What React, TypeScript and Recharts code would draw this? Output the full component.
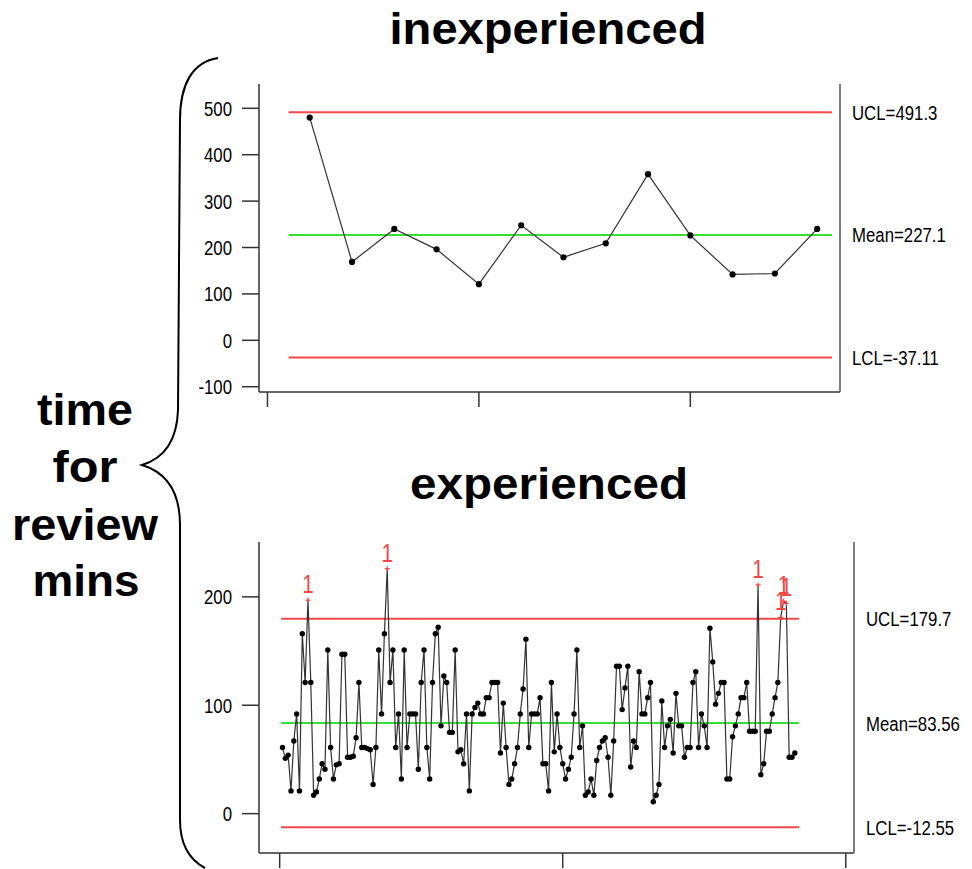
import { LineChart, Line, XAxis, YAxis, ReferenceLine } from "recharts";

// inexperienced reviewers, minutes per review (13 reviews)
const INEXP_MINUTES = [480, 169, 240, 196, 121, 248, 179, 209, 358, 226, 142, 144, 240];
const INEXP_LIMITS = { ucl: 491.3, mean: 227.1, lcl: -37.11 };
const INEXP_Y_TICKS = [-100, 0, 100, 200, 300, 400, 500];
const INEXP_X_TICKS = [0, 5, 10];
const INEXP_LIMIT_SPAN = [0.5, 13.35];

// experienced reviewers, minutes per review
const EXP_MINUTES = [
  61, 51, 54, 21, 67, 92, 21, 166, 121, 197, 121, 17, 20, 32, 46, 41, 151, 61, 32, 45,
  46, 147, 147, 52, 52, 53, 70, 121, 61, 61, 60, 59, 27, 61, 151, 92, 166, 226, 121,
  151, 61, 92, 32, 151, 61, 92, 92, 92, 41, 121, 151, 61, 32, 121, 166, 172, 81, 127,
  121, 75, 75, 151, 57, 59, 46, 92, 21, 92, 98, 102, 92, 92, 107, 107, 121, 121, 121,
  56, 102, 61, 27,
  32, 46, 61, 92, 115, 161, 61, 92, 92, 92, 107, 46, 46, 21, 121, 57, 92, 61, 46, 32,
  41, 52, 92, 151, 61, 81, 17, 20, 32, 17, 49, 61, 67, 70, 52, 17, 67, 136, 136, 96,
  116, 136, 43,
  67, 61, 131, 92, 92, 107, 121, 11, 17, 27, 104, 61, 81, 87, 56, 111, 81, 81, 52, 61,
  61, 121, 131, 61, 92, 81, 61, 171, 140, 101, 111, 121, 121, 32, 32, 71, 81, 92, 107,
  107, 121,
  76, 76, 76, 211, 36, 46, 76, 76, 92, 107, 121, 181, 196, 194, 52, 52, 56,
];
const EXP_LIMITS = { ucl: 179.7, mean: 83.56, lcl: -12.55 };
const EXP_Y_TICKS = [0, 100, 200];
const EXP_X_TICKS = [0, 100, 200];
const EXP_LIMIT_SPAN = [0.5, 183.5];

const SANS = '"Liberation Sans", Arial, Helvetica, sans-serif';
const NARROW_SCALE = 0.8;
const RED = "#f24848";
const GREEN = "#35e035";
const FRAME = "#333";

const toRows = (values: number[]) => values.map((v, i) => ({ sample: i + 1, minutes: v }));

// Arial-narrow look: regular sans squeezed horizontally
function NarrowText({ x, y, anchor, size, fill, children, dy }: any) {
  return (
    <g transform={`translate(${x},${y}) scale(${NARROW_SCALE},1)`}>
      <text x={0} y={0} dy={dy} textAnchor={anchor} fontSize={size} fontFamily={SANS} fill={fill}>
        {children}
      </text>
    </g>
  );
}

function makeTick(format: (v: number) => string) {
  return (props: any) => {
    const { x, y, payload, textAnchor, index } = props;
    return (
      <NarrowText key={`t${index}`} x={x} y={y} anchor={textAnchor} size={21} fill="#000" dy="0.355em">
        {format(payload.value)}
      </NarrowText>
    );
  };
}

function makeDot(r: number, ucl: number) {
  return (props: any) => {
    const { cx, cy, index, payload } = props;
    if (cx == null || cy == null) return <g key={`n${index}`} />;
    if (payload.minutes > ucl) {
      return (
        <g key={`f${index}`}>
          <path d={`M${cx - 2.5},${cy}h5M${cx},${cy - 2.5}v5`} stroke={RED} strokeWidth={1.2} />
          <NarrowText x={cx} y={cy - 7} anchor="middle" size={26} fill={RED}>
            1
          </NarrowText>
        </g>
      );
    }
    return <circle key={`d${index}`} cx={cx} cy={cy} r={r} fill="#000" />;
  };
}

interface ControlChartProps {
  values: number[];
  limits: { ucl: number; mean: number; lcl: number };
  xDomain: [number, number];
  yDomain: [number, number];
  xTicks: number[];
  yTicks: number[];
  span: number[];
  height: number;
  rightWidth: number;
  dotR: number;
}

function ControlChart({ values, limits, xDomain, yDomain, xTicks, yTicks, span, height, rightWidth, dotR }: ControlChartProps) {
  const data = toRows(values);
  const limitTicks = [limits.ucl, limits.mean, limits.lcl];
  const limitText = [`UCL=${limits.ucl}`, `Mean=${limits.mean}`, `LCL=${limits.lcl}`];

  const seg = (y: number) => [
    { x: span[0], y },
    { x: span[1], y },
  ];

  return (
    <LineChart width={792} height={height} data={data} margin={{ top: 14, right: 0, bottom: 0, left: 0 }}>
      <XAxis
        dataKey="sample"
        type="number"
        domain={xDomain}
        ticks={xTicks}
        tickSize={15}
        tickFormatter={() => ""}
        height={16}
        stroke={FRAME}
        strokeWidth={1.5}
        allowDataOverflow
      />
      <XAxis
        xAxisId="top"
        dataKey="sample"
        orientation="top"
        type="number"
        domain={xDomain}
        height={0}
        tick={false}
        tickLine={false}
        stroke={FRAME}
        strokeWidth={1.5}
        allowDataOverflow
      />
      <YAxis
        type="number"
        domain={yDomain}
        ticks={yTicks}
        interval={0}
        tickSize={17}
        tickMargin={10}
        width={79}
        tick={makeTick((v) => String(v))}
        stroke={FRAME}
        strokeWidth={1.5}
        allowDataOverflow
      />
      <YAxis
        yAxisId="right"
        orientation="right"
        type="number"
        domain={yDomain}
        ticks={limitTicks}
        interval={0}
        tickLine={false}
        tickSize={0}
        tickMargin={12}
        width={rightWidth}
        tick={makeTick((v) => limitText[limitTicks.indexOf(v)] ?? "")}
        stroke="#555"
        strokeWidth={1.5}
        allowDataOverflow
      />
      <ReferenceLine segment={seg(limits.ucl)} stroke={RED} strokeWidth={2} />
      <ReferenceLine segment={seg(limits.mean)} stroke={GREEN} strokeWidth={2} />
      <ReferenceLine segment={seg(limits.lcl)} stroke={RED} strokeWidth={2} />
      <Line
        dataKey="minutes"
        stroke="#333"
        strokeWidth={1.2}
        dot={makeDot(dotR, limits.ucl)}
        activeDot={false}
        isAnimationActive={false}
      />
    </LineChart>
  );
}

export default function App() {
  return (
    <div style={{ position: "absolute", left: 0, top: 0, width: 972, height: 869, background: "#fff", overflow: "hidden" }}>
      <svg width={972} height={869} style={{ position: "absolute", left: 0, top: 0 }}>
        <text x={548} y={44} textAnchor="middle" fontFamily={SANS} fontWeight="bold" fontSize={44} textLength={317} lengthAdjust="spacingAndGlyphs">
          inexperienced
        </text>
        <text x={549} y={499} textAnchor="middle" fontFamily={SANS} fontWeight="bold" fontSize={44} textLength={278} lengthAdjust="spacingAndGlyphs">
          experienced
        </text>
        <g fontFamily={SANS} fontWeight="bold" fontSize={44} textAnchor="middle">
          <text x={85} y={425} textLength={96} lengthAdjust="spacingAndGlyphs">time</text>
          <text x={85} y={482} textLength={65} lengthAdjust="spacingAndGlyphs">for</text>
          <text x={85} y={540} textLength={146} lengthAdjust="spacingAndGlyphs">review</text>
          <text x={86} y={596} textLength={107} lengthAdjust="spacingAndGlyphs">mins</text>
        </g>
        <path
          d="M 218 58 C 192 62, 180 85, 180 120 L 178 410 C 177 440, 165 458, 142 465 C 165 472, 180 490, 180 525 L 180 820 C 180 845, 190 860, 205 868"
          fill="none"
          stroke="#000"
          strokeWidth={2}
        />
      </svg>
      <div style={{ position: "absolute", left: 180, top: 70 }}>
        <ControlChart
          values={INEXP_MINUTES}
          limits={INEXP_LIMITS}
          xDomain={[-0.2, 13.54]}
          yDomain={[-111.4, 552.4]}
          xTicks={INEXP_X_TICKS}
          yTicks={INEXP_Y_TICKS}
          span={INEXP_LIMIT_SPAN}
          height={338}
          rightWidth={132}
          dotR={3.1}
        />
      </div>
      <div style={{ position: "absolute", left: 180, top: 528 }}>
        <ControlChart
          values={EXP_MINUTES}
          limits={EXP_LIMITS}
          xDomain={[-7.3, 202.9]}
          yDomain={[-36.3, 250.6]}
          xTicks={EXP_X_TICKS}
          yTicks={EXP_Y_TICKS}
          span={EXP_LIMIT_SPAN}
          height={341}
          rightWidth={118}
          dotR={2.7}
        />
      </div>
    </div>
  );
}
